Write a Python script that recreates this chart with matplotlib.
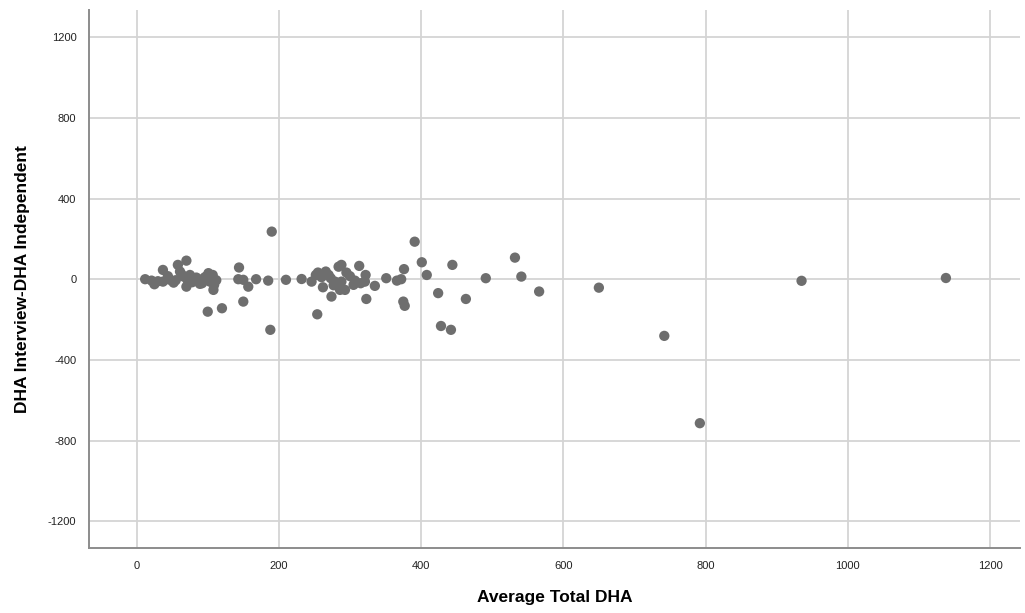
import matplotlib
matplotlib.use('Agg')
import numpy as np
import matplotlib.pyplot as plt

# average total DHA (x) and interview minus independent (y)
avg_dha = [12, 21, 25, 37, 37, 47, 52, 58, 61, 70, 66, 70, 75, 80, 87, 89, 96, 101,
           103, 107, 109, 108, 100, 120, 144, 143, 150, 157, 150, 168, 185, 190, 188,
           210, 232, 246, 252, 255, 262, 266, 270, 273, 274, 254, 279, 284, 288, 286,
           288, 293, 295, 307, 305, 313, 322, 321, 323, 335, 351, 366, 372, 376, 375,
           377, 391, 401, 408, 424, 428, 442, 444, 463, 491, 532, 541, 566, 650, 742,
           792, 935, 1138,
           30, 44, 55, 63, 78, 84, 92, 98, 104, 112, 45, 72, 94, 260, 277, 300, 315]
diff_dha = [0, -7, -25, 46, -12, -3, -17, 71, 38, 92, 13, -37, 21, 5, -3, -23, 10, 30,
            -12, 21, -28, -53, -161, -144, 58, 0, -3, -37, -111, 0, -7, 236, -251,
            -3, 1, -12, 21, 33, -40, 38, 21, 5, -86, -174, -12, 62, 71, -53,
            -12, -53, 33, -7, -28, 66, 21, -12, -98, -33, 5, -7, 0, 50, -111,
            -132, 186, 84, 21, -69, -232, -251, 71, -98, 5, 107, 13, -61, -42, -281,
            -714, -8, 6,
            -10, 15, -5, 25, -15, 8, -20, 12, 18, -5, 3, -8, 2, 10, -30, 15, -20]

xticks = [0, 200, 400, 600, 800, 1000, 1200]
yticks = [-1200, -800, -400, 0, 400, 800, 1200]

plt.rcParams['font.family'] = ['Liberation Sans', 'DejaVu Sans']
plt.rcParams['axes.unicode_minus'] = False

fig = plt.figure(figsize=(10.25, 6.13), dpi=100)
ax = fig.add_axes([0.0868, 0.106, 0.9082, 0.8777])

ax.scatter(avg_dha, diff_dha, s=55, color='#6e6e6e', edgecolors='none', zorder=3)

ax.set_xlim(-67, 1242)
ax.set_ylim(-1333, 1335)
ax.set_xticks(xticks)
ax.set_yticks(yticks)
ax.tick_params(length=0, labelsize=8, colors='#222222', pad=9)
ax.grid(True, color='#d4d4d4', linewidth=1.3)
ax.set_axisbelow(True)

for side in ['top', 'right']:
    ax.spines[side].set_visible(False)
for side in ['left', 'bottom']:
    ax.spines[side].set_color('#8c8c8c')
    ax.spines[side].set_linewidth(1.4)

ax.set_xlabel('Average Total DHA', fontsize=12.5, fontweight='bold', labelpad=14)
ax.set_ylabel('DHA Interview-DHA Independent', fontsize=12.5, fontweight='bold', labelpad=13)

plt.savefig('out.png', dpi=100)
